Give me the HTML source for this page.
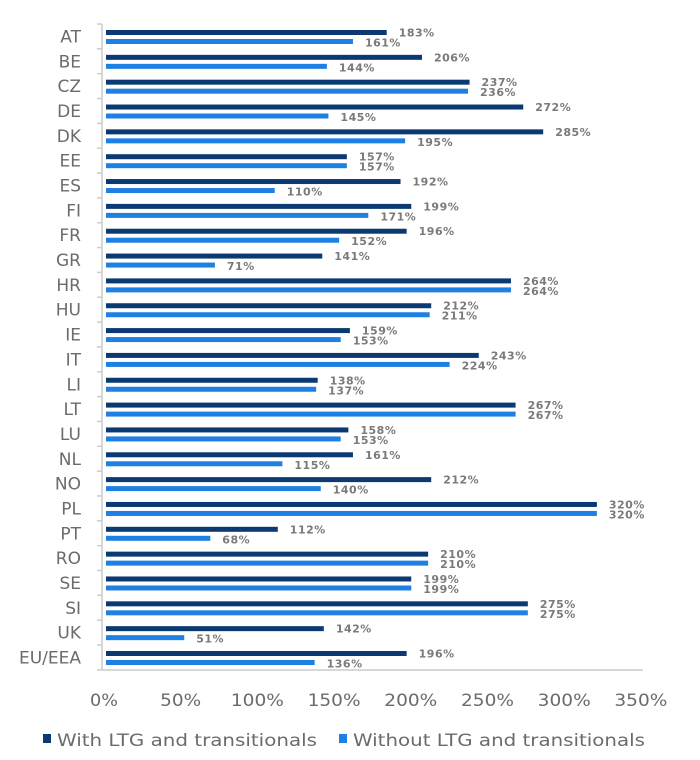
<!DOCTYPE html>
<html><head><meta charset="utf-8"><style>
html,body{margin:0;padding:0;background:#fff;}
svg{display:block;}
.c{font-family:"DejaVu Sans","Liberation Sans",sans-serif;font-size:17px;fill:#6b6b6b;}
.v{font-family:"DejaVu Sans","Liberation Sans",sans-serif;font-size:11px;font-weight:bold;fill:#7a7a7a;letter-spacing:0.5px;}
.t{font-family:"DejaVu Sans","Liberation Sans",sans-serif;font-size:17px;fill:#6b6b6b;}
</style></head><body>
<svg id="s" width="700" height="760" xmlns="http://www.w3.org/2000/svg"></svg>
<script>
(function(){
var d=[["AT",183,161],["BE",206,144],["CZ",237,236],["DE",272,145],["DK",285,195],["EE",157,157],["ES",192,110],["FI",199,171],["FR",196,152],["GR",141,71],["HR",264,264],["HU",212,211],["IE",159,153],["IT",243,224],["LI",138,137],["LT",267,267],["LU",158,153],["NL",161,115],["NO",212,140],["PL",320,320],["PT",112,68],["RO",210,210],["SE",199,199],["SI",275,275],["UK",142,51],["EU/EEA",196,136]];
var x0=106,k=1.534,T=24,rh=24.84;
var h='';
h+='<line x1="102" y1="'+T+'" x2="102" y2="670" stroke="#ccc" stroke-width="1.5"/>';
h+='<line x1="102" y1="670" x2="643" y2="670" stroke="#ccc" stroke-width="1.5"/>';
for(var i=0;i<=26;i++){var y=T+i*rh;h+='<line x1="97" y1="'+y+'" x2="102" y2="'+y+'" stroke="#ccc" stroke-width="1.5"/>';}
d.forEach(function(r,i){var y=T+i*rh;
h+='<text class="c" x="81" y="'+(y+18.5)+'" text-anchor="end">'+r[0]+'</text>';
var w1=r[1]*k,w2=r[2]*k;
h+='<rect x="'+x0+'" y="'+(y+6)+'" width="'+w1+'" height="5" fill="#0b3a73"/>';
h+='<rect x="'+x0+'" y="'+(y+15)+'" width="'+w2+'" height="5" fill="#1f80e3"/>';
h+='<text class="v" x="'+(x0+w1+12)+'" y="'+(y+12.5)+'">'+r[1]+'%</text>';
h+='<text class="v" x="'+(x0+w2+12)+'" y="'+(y+22.5)+'">'+r[2]+'%</text>';
});
for(var j=0;j<=7;j++){var s=(j*50)+'%';var tl=s.length==2?28:(s.length==3?41:53);var cx=x0+j*50*k-2;
h+='<text class="t" x="'+(cx-tl/2)+'" y="706" textLength="'+tl+'" lengthAdjust="spacingAndGlyphs">'+s+'</text>';}
h+='<rect x="43" y="734" width="8" height="9" fill="#0b3a73"/><text class="t" x="57" y="746" textLength="260" lengthAdjust="spacingAndGlyphs">With LTG and transitionals</text>';
h+='<rect x="339" y="734" width="8" height="9" fill="#1f80e3"/><text class="t" x="353" y="746" textLength="292" lengthAdjust="spacingAndGlyphs">Without LTG and transitionals</text>';
document.getElementById('s').innerHTML=h;
})();
</script>
</body></html>
